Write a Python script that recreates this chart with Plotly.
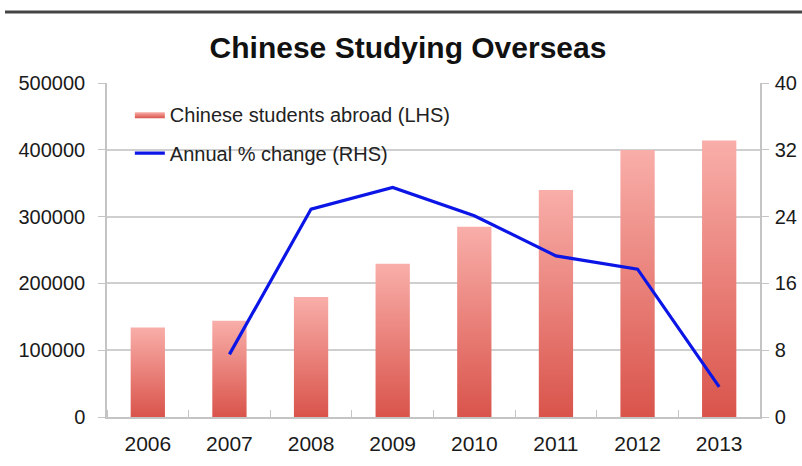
import plotly.graph_objects as go

# Chinese students abroad, and the year-on-year change in that number
years = [2006, 2007, 2008, 2009, 2010, 2011, 2012, 2013]
students = [134000, 144000, 179800, 229300, 284700, 339700, 399600, 413900]
pct_years = [2007, 2008, 2009, 2010, 2011, 2012, 2013]
pct_change = [7.5, 24.9, 27.5, 24.1, 19.3, 17.7, 3.6]
left_ticks = [0, 100000, 200000, 300000, 400000, 500000]
right_ticks = [0, 8, 16, 24, 32, 40]

W, H = 802, 466
ML, MR, MT, MB = 107, 42, 83, 49
FONT = "Liberation Sans, Arial, sans-serif"
AXIS_GREY = "#c4c4c4"
BAR_HALF = 0.21

fig = go.Figure()

# Each bar is a filled rectangle on the numeric year axis so it can carry
# a vertical red-to-pink gradient.
for i, (yr, val) in enumerate(zip(years, students)):
    fig.add_trace(go.Scatter(
        x=[yr - BAR_HALF, yr + BAR_HALF, yr + BAR_HALF, yr - BAR_HALF, yr - BAR_HALF],
        y=[0, 0, val, val, 0],
        mode="lines",
        fill="toself",
        line=dict(width=0, color="rgba(0,0,0,0)"),
        fillgradient=dict(type="vertical",
                          colorscale=[[0, "#d9544b"], [1, "#f9aea9"]]),
        name="Chinese students abroad (LHS)",
        legendgroup="students",
        showlegend=(i == 0),
        hoverinfo="skip",
    ))

fig.add_trace(go.Scatter(
    x=pct_years, y=pct_change, yaxis="y2",
    mode="lines",
    line=dict(color="#0b16e6", width=3.2),
    name="Annual % change (RHS)",
    legendgroup="change",
))

plot_w = W - ML - MR
plot_h = H - MT - MB

fig.update_layout(
    width=W, height=H,
    margin=dict(l=ML, r=MR, t=MT, b=MB, autoexpand=False),
    paper_bgcolor="white", plot_bgcolor="white",
    font=dict(family=FONT, color="#1a1a1a"),
    title=dict(text="<b>Chinese Studying Overseas</b>",
               font=dict(size=30, color="#111111", family=FONT),
               xref="container", x=408 / W, xanchor="center",
               yref="container", y=1 - 47 / H, yanchor="middle"),
    showlegend=True,
    legend=dict(x=0.035, y=0.965, xanchor="left", yanchor="top",
                bgcolor="rgba(0,0,0,0)", font=dict(size=20, color="#222222"),
                traceorder="grouped", tracegroupgap=10, itemwidth=30),
    xaxis=dict(range=[2005.5, 2013.5], tickvals=years,
               ticktext=[str(y) for y in years],
               ticks="", showgrid=False, zeroline=False,
               showline=True, linecolor=AXIS_GREY, linewidth=1.5,
               tickfont=dict(size=21), ticklabelstandoff=7, automargin=False,
               minor=dict(tickvals=[y + 0.5 for y in [2005] + years],
                          ticks="inside", ticklen=7, tickcolor=AXIS_GREY,
                          showgrid=False)),
    yaxis=dict(range=[0, 500000], tickvals=left_ticks,
               ticktext=[str(v) for v in left_ticks],
               showgrid=True, gridcolor="#cfcfcf", gridwidth=1.6,
               zeroline=False, showline=True, linecolor=AXIS_GREY, linewidth=1.5,
               ticks="outside", ticklen=7, tickcolor=AXIS_GREY,
               tickfont=dict(size=20), ticklabelstandoff=9, automargin=False),
    yaxis2=dict(range=[0, 40], tickvals=right_ticks, overlaying="y", side="right",
                showgrid=False, zeroline=False,
                showline=True, linecolor=AXIS_GREY, linewidth=1.5,
                ticks="outside", ticklen=7, tickcolor=AXIS_GREY,
                tickfont=dict(size=20), ticklabelstandoff=2, automargin=False),
    shapes=[dict(type="line", xref="paper", yref="paper",
                 x0=(5 - ML) / plot_w, x1=(W - ML) / plot_w,
                 y0=(H - MB - 12) / plot_h, y1=(H - MB - 12) / plot_h,
                 line=dict(color="#444444", width=3))],
)

fig.write_html("out.html")
